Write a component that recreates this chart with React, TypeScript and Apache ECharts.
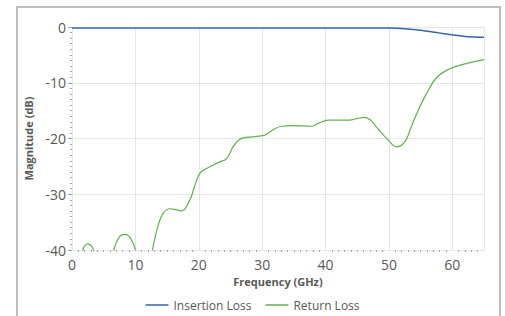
import React, { useEffect, useRef } from "react";
import * as echarts from "echarts";

const seriesNames = ["Insertion Loss", "Return Loss"];

const insertionFreq = [0, 10, 20, 30, 40, 48, 50, 52.5, 55, 57.5, 59.6, 62, 63.5, 65];
const insertionLoss = [-0.2, -0.2, -0.2, -0.2, -0.2, -0.2, -0.2, -0.3, -0.6, -1.0, -1.35, -1.7, -1.8, -1.85];

const returnFreq = [
  0, 1, 1.7, 2.5, 3.4, 4.5, 5.5, 6.6, 7.5, 8.4, 9.3, 10, 11, 12, 12.7, 13.5, 14.4, 15.5, 16.5, 17.3,
  18.6, 19.5, 20.2, 21, 22.2, 23.3, 24.4, 25.4, 26.2, 27, 28.5, 30.4, 31.5, 33, 35, 37.8, 39, 40.4,
  43.8, 45, 46.2, 47.2, 48, 49.9, 51.2, 52.5, 53.5, 54.4, 55.9, 57.5, 59.6, 61.7, 64.8, 65,
];
const returnLoss = [
  -50, -45, -40, -38.9, -40, -48, -46, -40, -37.6, -37.2, -38, -40, -47, -45, -40, -36, -33.4, -32.6, -32.8, -33,
  -31, -28, -26.2, -25.5, -24.8, -24.2, -23.6, -21.5, -20.4, -19.9, -19.7, -19.4, -18.6, -17.8, -17.7, -17.8, -17.2, -16.7,
  -16.7, -16.4, -16.2, -16.8, -17.9, -20.3, -21.5, -20.6, -18, -15.5, -12, -9.1, -7.5, -6.7, -5.9, -5.85,
];

const xMin = 0;
const xMax = 65;
const xInterval = 10;
const yMin = -40;
const yMax = 0;
const yInterval = 10;

const colors = ["#3366ad", "#62b04e"];

export default function App() {
  const ref = useRef<HTMLDivElement>(null);
  useEffect(() => {
    if (!ref.current) return;
    const chart = echarts.init(ref.current, undefined, { renderer: "svg" });
    const font = "'Open Sans', 'Noto Sans', sans-serif";
    const insData = insertionFreq.map((f, i) => [f, insertionLoss[i]]);
    const retData = returnFreq.map((f, i) => [f, returnLoss[i]]);
    chart.setOption({
      animation: false,
      backgroundColor: "transparent",
      textStyle: { fontFamily: font },
      grid: { left: 72, right: 21, top: 27, bottom: 66 },
      legend: {
        data: seriesNames,
        bottom: 0,
        left: "center",
        icon: "rect",
        itemWidth: 23,
        itemHeight: 1.5,
        itemGap: 14,
        textStyle: { color: "#595959", fontSize: 12, fontFamily: font },
      },
      xAxis: {
        type: "value",
        min: xMin,
        max: xMax,
        interval: xInterval,
        name: "Frequency (GHz)",
        nameLocation: "middle",
        nameGap: 22,
        nameTextStyle: { color: "#595959", fontSize: 11, fontWeight: "bold", fontFamily: font },
        axisLine: { show: false, onZero: false },
        axisTick: { show: false },
        minorTick: { show: true, splitNumber: 10, length: 2, lineStyle: { color: "#a6a6a6", width: 1 } },
        axisLabel: { color: "#595959", fontSize: 14, margin: 7, showMaxLabel: false, fontFamily: font },
        splitLine: { show: true, lineStyle: { color: "#e6e6e6", width: 1 } },
      },
      yAxis: {
        type: "value",
        min: yMin,
        max: yMax,
        interval: yInterval,
        name: "Magnitude (dB)",
        nameLocation: "middle",
        nameGap: 38,
        nameRotate: 90,
        nameTextStyle: { color: "#595959", fontSize: 11, fontWeight: "bold", fontFamily: font },
        axisLine: { show: false, onZero: false },
        axisTick: { show: true, length: 4, lineStyle: { color: "#a6a6a6" } },
        minorTick: { show: true, splitNumber: 10, length: 2, lineStyle: { color: "#a6a6a6", width: 1 } },
        axisLabel: { color: "#595959", fontSize: 14, margin: 6, fontFamily: font },
        splitLine: { show: true, lineStyle: { color: "#e6e6e6", width: 1 } },
      },
      series: [
        {
          name: seriesNames[0],
          type: "line",
          data: insData,
          smooth: 0.4,
          showSymbol: false,
          symbol: "none",
          clip: true,
          color: colors[0],
          lineStyle: { color: colors[0], width: 1.5 },
        },
        {
          name: seriesNames[1],
          type: "line",
          data: retData,
          smooth: 0.4,
          showSymbol: false,
          symbol: "none",
          clip: true,
          color: colors[1],
          lineStyle: { color: colors[1], width: 1.2 },
        },
      ],
    });
    return () => chart.dispose();
  }, []);
  return (
    <div style={{ position: "fixed", left: 0, top: 0, width: 505, height: 316, background: "#fff", overflow: "hidden" }}>
      <div
        style={{
          position: "absolute",
          left: 16,
          top: 6,
          width: 485,
          height: 340,
          border: "2px solid #bdbdbd",
          boxSizing: "border-box",
        }}
      />
      <div ref={ref} style={{ position: "absolute", left: 0, top: 0, width: 505, height: 316 }} />
    </div>
  );
}
